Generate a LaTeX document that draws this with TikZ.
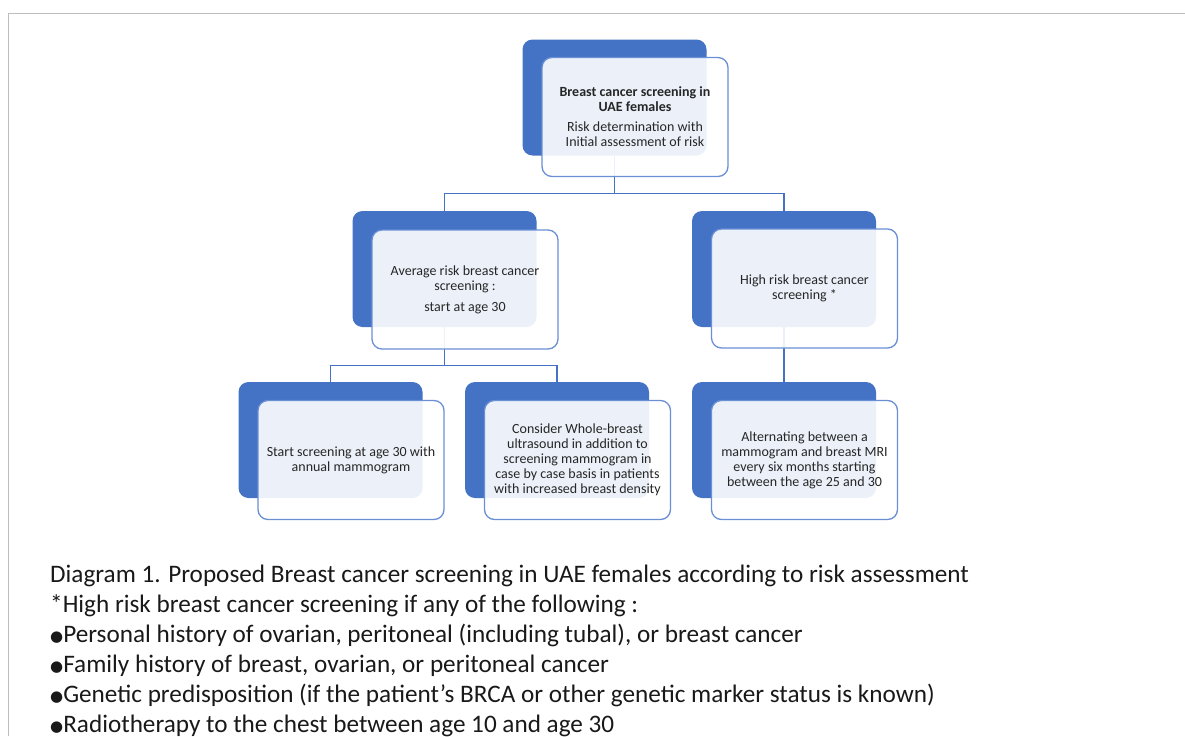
\documentclass[tikz,border=0pt]{standalone}
\usepackage{fontspec}
\setmainfont{Carlito}
\newfontfamily\symfont{DejaVu Sans}
\usetikzlibrary{calc,positioning}

\definecolor{boxblue}{HTML}{4472C4}
\definecolor{lineblue}{HTML}{6A8FD4}
\definecolor{framegray}{HTML}{BDBDBD}
\newcommand{\blt}{\raisebox{1.5pt}{\symfont\fontsize{15}{15}\selectfont ●}}

\begin{document}
\begin{tikzpicture}[x=1pt,y=-1pt,
    back/.style={fill=boxblue, rounded corners=10pt, minimum width=184pt,
      minimum height=116pt, inner sep=0pt},
    front/.style={draw=lineblue, line width=1.3pt, fill=white, fill opacity=0.9,
      text opacity=1, rounded corners=10pt, minimum width=186pt,
      minimum height=119pt, inner sep=0pt, align=center, text=black!85,
      font=\fontsize{14}{15}\selectfont},
    link/.style={draw=boxblue, line width=1.3pt}]
    \useasboundingbox (0,0) rectangle (1185,736);
    % frame
    \draw[framegray, line width=1pt] (8,736) -- (8,13) -- (1185,13);

    % back boxes
    \node[back] (top-b) at (614.5,97.5) {};
    \node[back] (avg-b) at (444.5,269) {};
    \node[back] (high-b) at (784,269) {};
    \node[back] (mam-b) at (330.5,440) {};
    \node[back] (us-b) at (557,440) {};
    \node[back] (mri-b) at (784,440) {};

    % connectors
    \draw[link] (top-b.south) -- ++(0,38) -| (avg-b.north);
    \draw[link] (top-b.south) -- ++(0,38) -| (high-b.north);
    \draw[link] (avg-b.south) -- ++(0,38) -| (mam-b.north);
    \draw[link] (avg-b.south) -- ++(0,38) -| (us-b.north);
    \draw[link] (high-b.south) -- (mri-b.north);

    % front boxes
    \node[front] (top) at ($(top-b)+(20.5,19.5)$) {\textbf{Breast cancer screening in}\\
      \textbf{UAE females}\\[5pt] Risk determination with\\ Initial assessment of risk};
    \node[front] (avg) at ($(avg-b)+(20.5,20.5)$) {Average risk breast cancer\\
      screening :\\[6pt] start at age 30};
    \node[front] (high) at ($(high-b)+(20.5,19.5)$) {High risk breast cancer\\ screening *};
    \node[front] (mam) at ($(mam-b)+(20.5,20)$) {Start screening at age 30 with\\
      annual mammogram};
    \node[front] (us) at ($(us-b)+(20.5,20)$) {Consider Whole-breast\\
      ultrasound in addition to\\ screening mammogram in\\
      case by case basis in patients\\ with increased breast density};
    \node[front] (mri) at ($(mri-b)+(20.5,20)$) {Alternating between a\\
      mammogram and breast MRI\\ every six months starting\\
      between the age 25 and 30};

    % caption
    \node[anchor=north west, align=left, inner sep=0pt, text=black!90,
      font=\fontsize{25.2}{30}\selectfont] (caption) at (50,565) {%
      Diagram 1. Proposed Breast cancer screening in UAE females according to risk assessment\\
      *High risk breast cancer screening if any of the following :\\
      \blt Personal history of ovarian, peritoneal (including tubal), or breast cancer\\
      \blt Family history of breast, ovarian, or peritoneal cancer\\
      \blt Genetic predisposition (if the patient’s BRCA or other genetic marker status is known)\\
      \blt Radiotherapy to the chest between age 10 and age 30};
\end{tikzpicture}
\end{document}
